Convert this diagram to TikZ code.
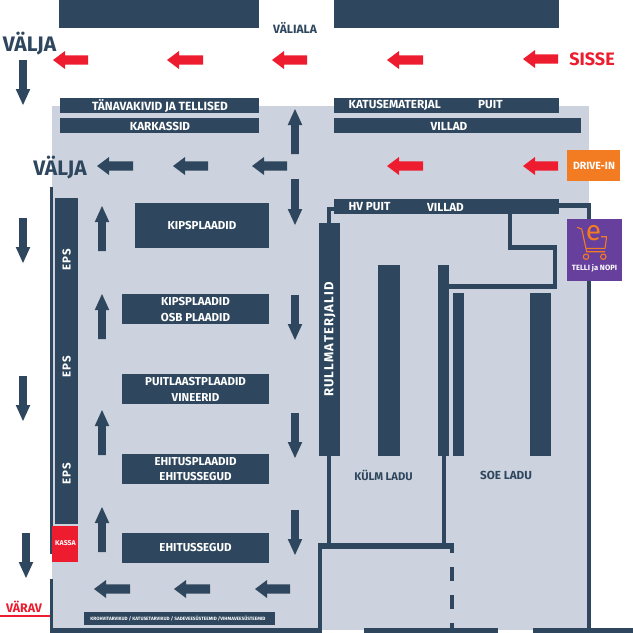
\documentclass[tikz,border=0pt]{standalone}
\usepackage{fontspec}
\setmainfont{Fira Sans}
\definecolor{navy}{HTML}{2F475E}
\definecolor{hall}{HTML}{CDD3DE}
\definecolor{redc}{HTML}{ED1C2E}
\definecolor{orangec}{HTML}{F37B21}
\definecolor{purplec}{HTML}{673F9C}
\tikzset{
  block/.style={text=white,font=\bfseries\fontsize{#1}{#1}\selectfont,inner sep=0pt,align=center},
  wall/.style={fill=navy},
  plain/.style={text=navy,font=\bfseries\fontsize{#1}{#1}\selectfont,inner sep=0pt},
}
\newcommand{\harr}[4]{\fill[#1] (#2,#4) -- ({#2+(#3-#2)/abs(#3-#2)*12},{#4-9}) -- ({#2+(#3-#2)/abs(#3-#2)*12},{#4-4.7}) -- (#3,{#4-4.7}) -- (#3,{#4+4.7}) -- ({#2+(#3-#2)/abs(#3-#2)*12},{#4+4.7}) -- ({#2+(#3-#2)/abs(#3-#2)*12},{#4+9}) -- cycle;}
\newcommand{\varr}[4]{\fill[#1] (#4,#2) -- ({#4-7.3},{#2+(#3-#2)/abs(#3-#2)*16}) -- ({#4-3.9},{#2+(#3-#2)/abs(#3-#2)*16}) -- ({#4-3.9},#3) -- ({#4+3.9},#3) -- ({#4+3.9},{#2+(#3-#2)/abs(#3-#2)*16}) -- ({#4+7.3},{#2+(#3-#2)/abs(#3-#2)*16}) -- cycle;}
\begin{document}
\begin{tikzpicture}[x=1pt,y=-1pt]
\useasboundingbox (0,0) rectangle (633,633);
\fill[white] (0,0) rectangle (633,633);
% hall floor
\fill[hall] (52,106) rectangle (589,630);
\fill[white] (322,630) rectangle (364,633);
% walls
\fill[wall] (50,187) rectangle (53,554);
\fill[wall] (50,579) rectangle (53,633);
\fill[wall] (50,628) rectangle (322,633);
\fill[wall] (318,543) rectangle (322,633);
\fill[wall] (318,543) rectangle (454,549);
\fill[wall] (327,207) rectangle (334,211);
\fill[wall] (327,207) rectangle (331,546);
\fill[wall] (442,456) rectangle (445.5,546);
\fill[wall] (450,546) rectangle (454,553);
\fill[wall] (450,567) rectangle (454,581);
\fill[wall] (450,595) rectangle (454,609);
\fill[wall] (450,623) rectangle (454,633);
\fill[wall] (364,628) rectangle (498,633);
\fill[wall] (533,628) rectangle (633,633);
\fill[wall] (559,203) rectangle (591,208);
\fill[wall] (587,203) rectangle (591,630);
\fill[wall] (508,214) rectangle (512,250);
\fill[wall] (508,245) rectangle (557,250);
\fill[wall] (552.5,245) rectangle (557,289);
\fill[wall] (449,284) rectangle (557,289);
\draw[redc,line width=2pt] (0,616) -- (50,616);
% top blocks
\fill[wall] (59,0) rectangle (259,28);
\fill[wall] (334,0) rectangle (559,28);
% racks with text
\fill[wall] (60,97.5) rectangle (259,113);
\node[block=11.9] (tk) at (160,105.5) {TÄNAVAKIVID JA TELLISED};
\fill[wall] (60,118) rectangle (259,133);
\node[block=11.7] (ka) at (160,126.5) {KARKASSID};
\fill[wall] (334,97.5) rectangle (559,113);
\node[block=11.7,anchor=west] (ku) at (348.5,105) {KATUSEMATERJAL};
\node[block=11.7,anchor=west] (pu) at (478,105) {PUIT};
\fill[wall] (334,118) rectangle (581,133);
\node[block=11.7] (vi) at (449,126.5) {VILLAD};
\fill[wall] (334,199) rectangle (559,214);
\node[block=11.7,anchor=west] (hv) at (348.5,207) {HV PUIT};
\node[block=11.7,anchor=west] (vl) at (427,207) {VILLAD};
\fill[wall] (319,223) rectangle (340,456);
\node[block=13,rotate=90] (ru) at (330,339.5) {\addfontfeature{LetterSpace=9}RULLMATERJALID};
\fill[wall] (378,265) rectangle (400,456);
\fill[wall] (438,265) rectangle (449,456);
\fill[wall] (453,293) rectangle (464,456);
\fill[wall] (530,293) rectangle (551,456);
\fill[wall] (55,198) rectangle (78,524);
\node[block=11.5,rotate=90] (e1) at (66.7,260) {\addfontfeature{LetterSpace=10}EPS};
\node[block=11.5,rotate=90] (e2) at (66.7,367) {\addfontfeature{LetterSpace=10}EPS};
\node[block=11.5,rotate=90] (e3) at (66.7,474) {\addfontfeature{LetterSpace=10}EPS};
\fill[redc] (52,526) rectangle (78,562);
\node[block=7] (ks) at (65.5,543.5) {KASSA};
\fill[wall] (135,203) rectangle (269,248);
\node[block=11.5] (k1) at (202,226) {KIPSPLAADID};
\fill[wall] (122,294) rectangle (269,324);
\node[block=11.5] (k2) at (195.5,309.5) {KIPSPLAADID\\[3.8pt]OSB PLAADID};
\fill[wall] (122,374) rectangle (269,404);
\node[block=11.5] (k3) at (195.5,389.3) {PUITLAASTPLAADID\\[3.8pt]VINEERID};
\fill[wall] (122,454) rectangle (269,484);
\node[block=11.5] (k4) at (195.5,468.8) {EHITUSPLAADID\\[3.8pt]EHITUSSEGUD};
\fill[wall] (122,533) rectangle (269,563);
\node[block=11.5] (k5) at (195.5,548) {EHITUSSEGUD};
\fill[wall] (84,612) rectangle (275,625);
\node[block=4.7] (kr) at (178,618.5) {KROHVITARVIKUD / KATUSETARVIKUD / SADEVEESÜSTEEMID /VIHMAVEESÜSTEEMID};
% plain labels
\node[plain=12] (va) at (295,28) {VÄLIALA};
\node[plain=21] (v1) at (29.5,44) {VÄLJA};
\node[plain=21] (v2) at (60,167.5) {VÄLJA};
\node[plain=11.2] (ku2) at (383.5,475) {KÜLM LADU};
\node[plain=11.7] (so) at (506,475) {SOE LADU};
\node[text=redc,font=\bfseries\fontsize{18}{18}\selectfont,inner sep=0pt] (si) at (592,59) {SISSE};
\node[text=redc,font=\bfseries\fontsize{12.4}{12.4}\selectfont,inner sep=0pt] (vr) at (24,607) {VÄRAV};
% drive-in
\fill[orangec] (567,150) rectangle (620,181);
\node[block=10.5] (dr) at (594,166) {DRIVE-IN};
% e-shop
\fill[purplec] (567,219) rectangle (622,281);
\node[block=7.6] (te) at (594.5,268) {TELLI ja NOPI};
\draw[orangec,line width=1.1pt,line join=round] (577,227.3) -- (581.7,229) -- (586.7,251.7) -- (605,251.7);
\draw[orangec,line width=1.1pt,line join=round] (601,236.7) -- (606.7,236.7) -- (605,248.3) -- (586,248.3);
\draw[orangec,line width=1.1pt] (586,256.7) circle (2.7) (603.3,256.7) circle (2.7);
\node[text=orangec,font=\fontsize{28}{28}\selectfont,inner sep=0pt] (ee) at (593.5,233) {e};
% red arrows
\harr{redc}{53}{88}{60}
\harr{redc}{167}{203}{60}
\harr{redc}{272}{307}{60}
\harr{redc}{387}{423}{60}
\harr{redc}{523}{558}{59}
\harr{redc}{387}{423}{166}
\harr{redc}{523}{558}{166}
% navy horizontal arrows
\harr{navy}{97}{133}{166}
\harr{navy}{173}{208}{166}
\harr{navy}{252}{287}{166}
\harr{navy}{94}{130}{589}
\harr{navy}{174}{210}{589}
\harr{navy}{255}{290}{589}
% navy vertical arrows
\varr{navy}{109}{154}{295}
\varr{navy}{225}{179}{295}
\varr{navy}{340}{295}{295}
\varr{navy}{458}{413}{295}
\varr{navy}{555}{510}{295}
\varr{navy}{105}{60}{23}
\varr{navy}{263}{218}{23}
\varr{navy}{421}{376}{23}
\varr{navy}{578}{533}{26}
\varr{navy}{206}{251}{102}
\varr{navy}{294}{339}{102}
\varr{navy}{410}{455}{102}
\varr{navy}{507}{552}{102}
\end{tikzpicture}
\end{document}
